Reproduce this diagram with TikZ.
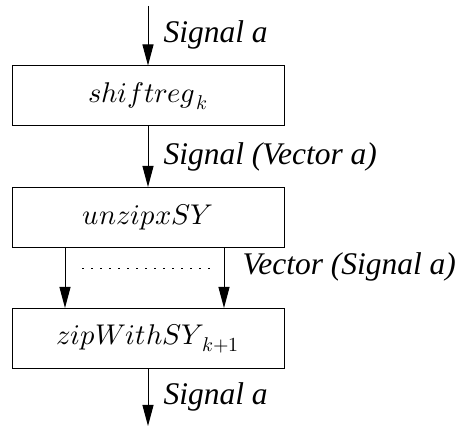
\documentclass[tikz,border=0pt]{standalone}
\usepackage{fontspec}
\usepackage{unicode-math}
\setmathfont{Latin Modern Math}
\newfontfamily\lblfont{Liberation Serif}
\usetikzlibrary{arrows.meta}
\begin{document}
\begin{tikzpicture}[x=1pt,y=-1pt, line width=1pt,
  box/.style={draw, minimum width=272pt, minimum height=60pt, inner sep=0pt, font=\fontsize{28.5}{34}\selectfont},
  lbl/.style={anchor=base west, inner sep=0pt, font=\lblfont\itshape\fontsize{31.5}{37}\selectfont},
  flow/.style={-{Triangle[length=21pt,width=11pt]}},
  dotline/.style={dash pattern=on 1.5pt off 7.5pt}]
\useasboundingbox (0,0) rectangle (458,427);
\node[box] (b1) at (148,96) {$shiftreg_{\mkern2mu k}$};
\node[box] (b2) at (148,217.5) {$unzipxSY$};
\node[box] (b3) at (148,338.5) {$zipWithSY_{\mkern4mu k+1}$};
\coordinate (in) at (148,6);
\coordinate (out) at (148,426);
\coordinate (xl) at (65,0);
\coordinate (xr) at (224,0);
\draw[flow] (in) -- (b1);
\draw[flow] (b1) -- (b2);
\draw[flow] (b2.south -| xl) -- (b3.north -| xl);
\draw[flow] (b2.south -| xr) -- (b3.north -| xr);
\draw[flow] (b3) -- (out);
\draw[dotline] (82,269) -- (210,269);
\node[lbl] (l1) at (163,43) {Signal a};
\node[lbl] (l2) at (163,165) {Signal (Vector a)};
\node[lbl] (l3) at (242,275) {Vector (Signal a)};
\node[lbl] (l4) at (163,405) {Signal a};
\end{tikzpicture}
\end{document}
